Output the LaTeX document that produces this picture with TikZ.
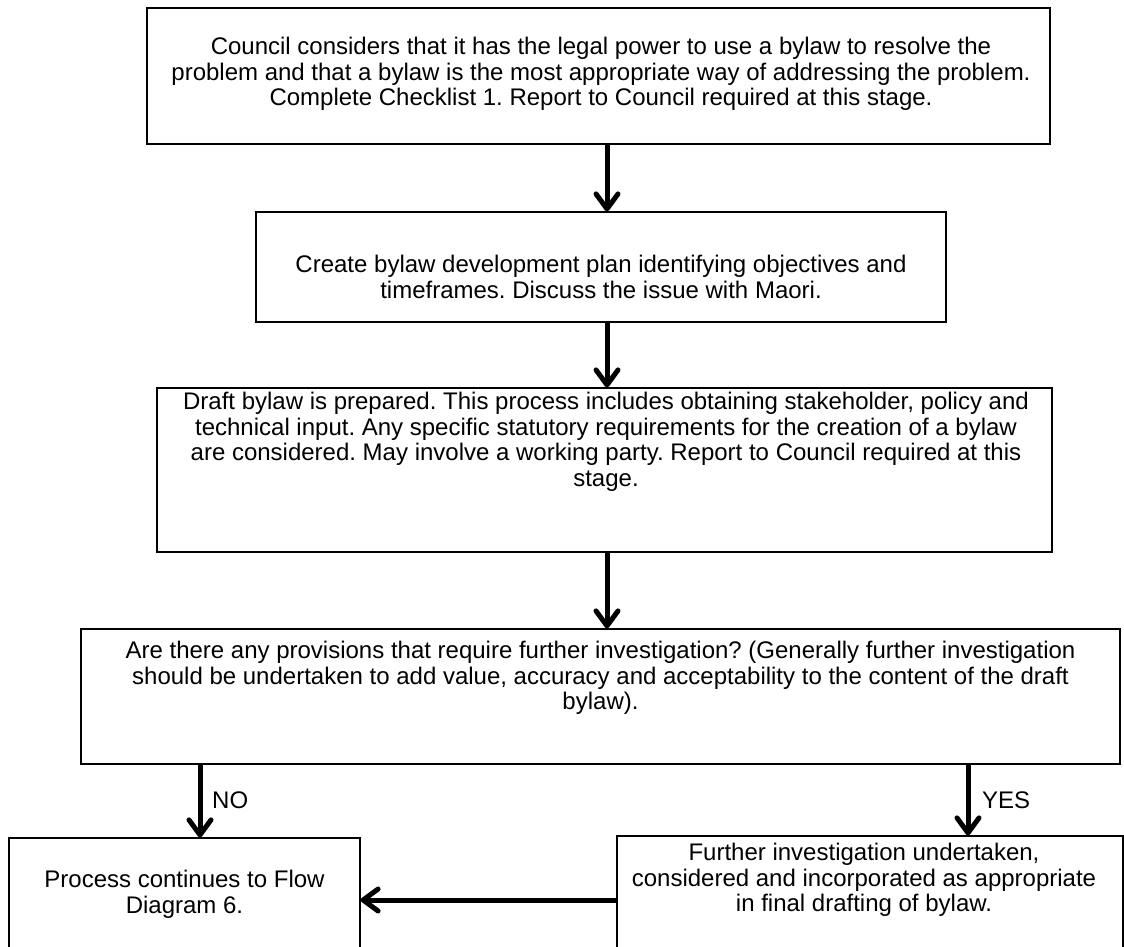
\documentclass[tikz,border=0pt]{standalone}
\usepackage{fontspec}
\setmainfont{Liberation Sans}
\usetikzlibrary{arrows.meta}
\frenchspacing
\begin{document}
\begin{tikzpicture}[x=1pt,y=-1pt,
  box/.style={draw, line width=1.2pt, inner sep=0pt, fill=white},
  txt/.style={align=center, font=\fontsize{24}{25.5}\selectfont, inner sep=0pt},
  lbl/.style={font=\fontsize{24}{25.5}\selectfont, inner sep=0pt, anchor=west},
  arr/.style={line width=5pt, -{Straight Barb[length=15pt,width=22pt,round]}}
]
\useasboundingbox (0,0) rectangle (1124,946);
\clip (0,0) rectangle (1124,946);
\fill[white] (0,0) rectangle (1124,946);

\node[box, minimum width=903pt, minimum height=136pt] (b1) at (598.5,76) {};
\node[txt] (t1) at (601,74) {Council considers that it has the legal power to use a bylaw to resolve the\\problem and that a bylaw is the most appropriate way of addressing the problem.\\Complete Checklist 1. Report to Council required at this stage.};

\node[box, minimum width=690pt, minimum height=110pt] (b2) at (601,267) {};
\node[txt] (t2) at (601,277) {Create bylaw development plan identifying objectives and\\timeframes. Discuss the issue with Maori.};

\node[box, minimum width=895pt, minimum height=164pt] (b3) at (604.5,470) {};
\node[txt, anchor=north] (t3) at (606,392) {Draft bylaw is prepared. This process includes obtaining stakeholder, policy and\\technical input. Any specific statutory requirements for the creation of a bylaw\\are considered. May involve a working party. Report to Council required at this\\stage.};

\node[box, minimum width=1039pt, minimum height=135pt] (b4) at (600.5,696.5) {};
\node[txt, anchor=north] (t4) at (600.5,641) {Are there any provisions that require further investigation? (Generally further investigation\\should be undertaken to add value, accuracy and acceptability to the content of the draft\\bylaw).};

\node[box, minimum width=351pt, minimum height=200pt] (b5) at (184.5,938) {};
\node[txt, anchor=north] (t5) at (184.5,870) {Process continues to Flow\\Diagram 6.};

\node[box, minimum width=506pt, minimum height=200pt] (b6) at (870,936) {};
\node[txt, anchor=north] (t6) at (864,843) {Further investigation undertaken,\\considered and incorporated as appropriate\\in final drafting of bylaw.};

\coordinate (cx) at (607,0);
\coordinate (cno) at (200,0);
\coordinate (cyes) at (968,0);
\coordinate (cy) at (0,900);

\draw[arr] (b1.south -| cx) -- (b2.north -| cx);
\draw[arr] (b2.south -| cx) -- (b3.north -| cx);
\draw[arr] (b3.south -| cx) -- (b4.north -| cx);
\draw[arr] (b4.south -| cno) -- (b5.north -| cno);
\draw[arr] (b4.south -| cyes) -- (b6.north -| cyes);
\draw[arr] (b6.west |- cy) -- (b5.east |- cy);

\node[lbl] (no) at (212,800) {NO};
\node[lbl] (yes) at (982,800) {YES};
\end{tikzpicture}
\end{document}
